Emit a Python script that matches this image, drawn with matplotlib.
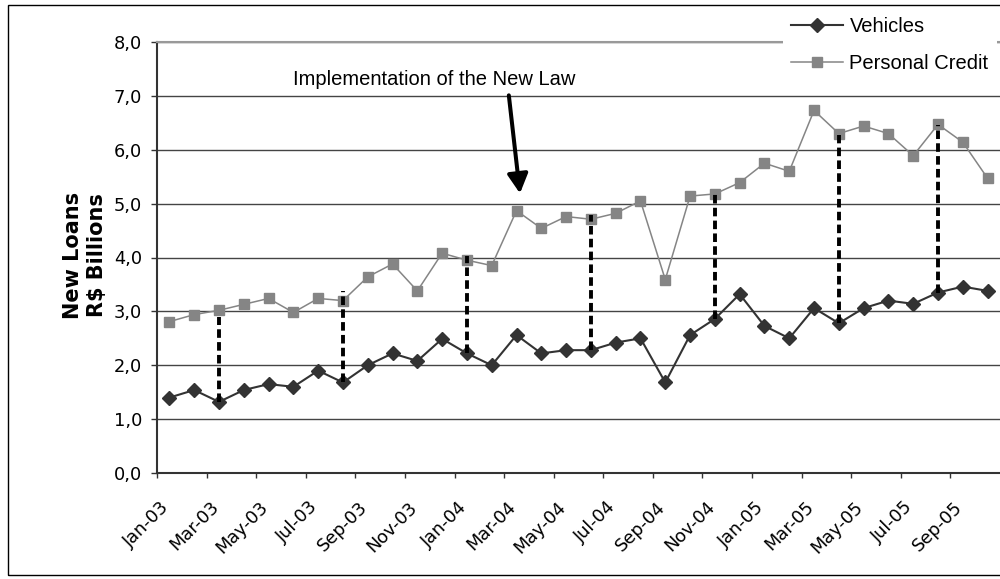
import matplotlib
matplotlib.use('Agg')
import matplotlib.pyplot as plt
import matplotlib.transforms as mtransforms
import numpy as np
from matplotlib.patches import Rectangle

# dados mensais, Jan-03 ate Oct-05 (R$ bilhoes)
vehicles = [1.40, 1.54, 1.32, 1.54, 1.65, 1.60, 1.90, 1.68, 2.00, 2.22, 2.08, 2.49,
            2.22, 2.00, 2.56, 2.22, 2.28, 2.28, 2.42, 2.50, 1.68, 2.56, 2.86, 3.32,
            2.73, 2.50, 3.06, 2.78, 3.06, 3.20, 3.14, 3.35, 3.46, 3.38]
personal_credit = [2.81, 2.94, 3.02, 3.13, 3.24, 2.98, 3.24, 3.20, 3.64, 3.88, 3.38, 4.08,
                   3.95, 3.85, 4.87, 4.54, 4.76, 4.71, 4.82, 5.05, 3.59, 5.14, 5.18, 5.39,
                   5.75, 5.60, 6.73, 6.30, 6.44, 6.30, 5.89, 6.47, 6.14, 5.47]

tick_labels = ['Jan-03', 'Mar-03', 'May-03', 'Jul-03', 'Sep-03', 'Nov-03',
               'Jan-04', 'Mar-04', 'May-04', 'Jul-04', 'Sep-04', 'Nov-04',
               'Jan-05', 'Mar-05', 'May-05', 'Jul-05', 'Sep-05']
y_values = [0, 1, 2, 3, 4, 5, 6, 7, 8]
y_labels = ['0,0', '1,0', '2,0', '3,0', '4,0', '5,0', '6,0', '7,0', '8,0']

# linhas tracejadas verticais (indice do mes, topo da linha)
dash_months = [2, 7, 12, 17, 22, 27, 31]
dash_tops = [2.90, 3.38, 4.03, 4.79, 5.22, 6.27, 6.46]

annotation_text = 'Implementation of the New Law'

plt.rcParams['font.family'] = 'DejaVu Sans'

fig = plt.figure(figsize=(10, 5.79), dpi=100)
ax = fig.add_axes([0.157, 1 - 473 / 579, 0.843, 431 / 579])

x = np.arange(len(vehicles)) + 0.5

ax.plot(x, personal_credit, color='#858585', lw=1.1, marker='s', ms=6.5,
        mec='#858585', mfc='#858585', label='Personal Credit', zorder=3)
ax.plot(x, vehicles, color='#333333', lw=1.5, marker='D', ms=7.5,
        mec='#333333', mfc='#333333', label='Vehicles', zorder=4)

for m, topo in zip(dash_months, dash_tops):
    ax.plot([m + 0.5, m + 0.5], [vehicles[m], topo], color='black', lw=2.8,
            ls=(0, (2.2, 1.1)), zorder=5)

ax.annotate('', xy=(14.64, 5.19), xytext=(14.19, 7.01),
            arrowprops=dict(arrowstyle='-|>,head_length=0.58,head_width=0.31',
                            lw=2.9, color='black', shrinkA=0, shrinkB=0,
                            mutation_scale=20), zorder=6)
ax.text(5.47, 7.2, annotation_text, fontsize=14.5, family='Liberation Sans',
        ha='left', va='baseline', zorder=6)

ax.set_xlim(0, len(vehicles))
ax.set_ylim(0, 8)
ax.set_yticks(y_values)
ax.set_yticklabels(y_labels, fontsize=12.8)
ax.set_xticks(np.arange(0, 2 * len(tick_labels), 2))
ax.set_xticklabels(tick_labels, fontsize=12.8, rotation=45, ha='right',
                   va='top', rotation_mode='anchor')
ax.tick_params(axis='x', direction='out', length=3.6, width=1, color='#333333', pad=14.5)
ax.tick_params(axis='y', direction='out', length=4.3, width=1, color='#333333', pad=6.5)

# desloca os rotulos do eixo x um pouco para a direita
desloc = mtransforms.ScaledTranslation(0.03, 0, fig.dpi_scale_trans)
for rot in ax.get_xticklabels():
    rot.set_transform(rot.get_transform() + desloc)

ax.yaxis.grid(True, color='#444444', lw=1)
ax.set_axisbelow(True)

for lado in ['left', 'bottom']:
    ax.spines[lado].set_color('#333333')
    ax.spines[lado].set_linewidth(1.5)
ax.spines['top'].set_color('#999999')
ax.spines['top'].set_linewidth(1.5)
ax.spines['right'].set_visible(False)

fig.text(0.085, 1 - 255 / 579, 'New Loans\nR$ Billions', rotation=90, fontsize=15,
         fontweight='bold', ha='center', va='center', multialignment='center',
         linespacing=1.2)

handles, labels = ax.get_legend_handles_labels()
leg = fig.legend(handles[::-1], labels[::-1], loc='upper left',
                 bbox_to_anchor=(0.783, 0.985), borderaxespad=0, borderpad=0.4,
                 prop={'family': 'Liberation Sans', 'size': 14.5},
                 handlelength=2.6, handletextpad=0.3, labelspacing=0.9,
                 frameon=True, fancybox=False, framealpha=1)
leg.get_frame().set_facecolor('white')
leg.get_frame().set_edgecolor('none')

borda = Rectangle((0.0075, 0.0069), 1.1, 0.984, transform=fig.transFigure,
                  fill=False, lw=1, ec='black')
fig.add_artist(borda)

fig.savefig('out.png', dpi=100)
